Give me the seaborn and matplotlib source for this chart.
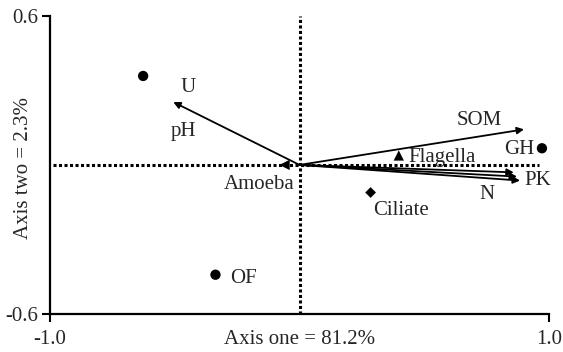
import matplotlib.pyplot as plt
import seaborn as sns
import pandas as pd

# ordination scores
sample_names = ["", "OF", "GH"]
sample_x = [-0.627, -0.337, 0.972]
sample_y = [0.358, -0.442, 0.067]

group_names = ["Amoeba", "Flagella", "Ciliate"]
group_x = [-0.06, 0.398, 0.285]
group_y = [0.0, 0.038, -0.111]
group_markers = ["<", "^", "D"]

env_names = ["pH/U", "SOM", "P", "K", "N"]
env_x = [-0.506, 0.900, 0.859, 0.872, 0.884]
env_y = [0.253, 0.143, -0.030, -0.047, -0.063]

# label text and where it sits
label_text = ["U", "pH", "SOM", "GH", "PK", "N", "Flagella", "Ciliate", "Amoeba", "OF"]
label_x = [-0.446, -0.466, 0.72, 0.88, 0.956, 0.751, 0.57, 0.406, -0.16, -0.225]
label_y = [0.313, 0.135, 0.18, 0.062, -0.063, -0.12, 0.03, -0.185, -0.079, -0.459]

sns.set_style("ticks")
plt.rcParams["font.family"] = ["Liberation Serif", "DejaVu Serif"]
FS = 15

fig, ax = plt.subplots(figsize=(5.63, 3.52), dpi=100)

samples = pd.DataFrame({"x": sample_x, "y": sample_y})
sns.scatterplot(data=samples, x="x", y="y", ax=ax, color="black", s=55,
                edgecolor="none", zorder=4)

for gx, gy, m in zip(group_x, group_y, group_markers):
    sns.scatterplot(x=[gx], y=[gy], ax=ax, marker=m, color="black",
                    s=55 if m != "D" else 30, edgecolor="none", zorder=4)

for ex, ey in zip(env_x, env_y):
    ax.annotate("", xy=(ex, ey), xytext=(0, 0),
                arrowprops=dict(arrowstyle="-|>", color="black", lw=1.3,
                                mutation_scale=10, shrinkA=0, shrinkB=0),
                zorder=3)

ax.hlines(0, -0.99, 0.96, colors="black", linestyles=(0, (1, 0.8)), lw=2.2, zorder=2)
ax.vlines(0, -0.6, 0.6, colors="black", linestyles=(0, (1, 0.8)), lw=2.2, zorder=2)

for t, lx, ly in zip(label_text, label_x, label_y):
    ax.text(lx, ly, t, fontsize=FS, ha="center", va="center", zorder=5)

ax.set_xlim(-1.0, 1.0)
ax.set_ylim(-0.6, 0.6)
ax.set_xticks([-1.0, 1.0])
ax.set_yticks([-0.6, 0.6])
ax.set_xticklabels(["-1.0", "1.0"])
ax.set_yticklabels(["-0.6", "0.6"])
ax.tick_params(labelsize=FS, width=1.5, length=5.5, color="black")
ax.tick_params(axis="x", pad=6)
ax.tick_params(axis="y", pad=3)
for side in ["left", "bottom"]:
    ax.spines[side].set_linewidth(1.6)
    ax.spines[side].set_color("black")
sns.despine(ax=ax)

ax.set_xlabel("Axis one = 81.2%", fontsize=FS)
ax.set_ylabel("Axis two = 2.3%", fontsize=FS)
ax.xaxis.set_label_coords(0.5, -0.055)
ax.yaxis.set_label_coords(-0.035, 0.49)

fig.subplots_adjust(left=0.089, right=0.975, top=0.955, bottom=0.108)
fig.savefig("out.png", dpi=100)
